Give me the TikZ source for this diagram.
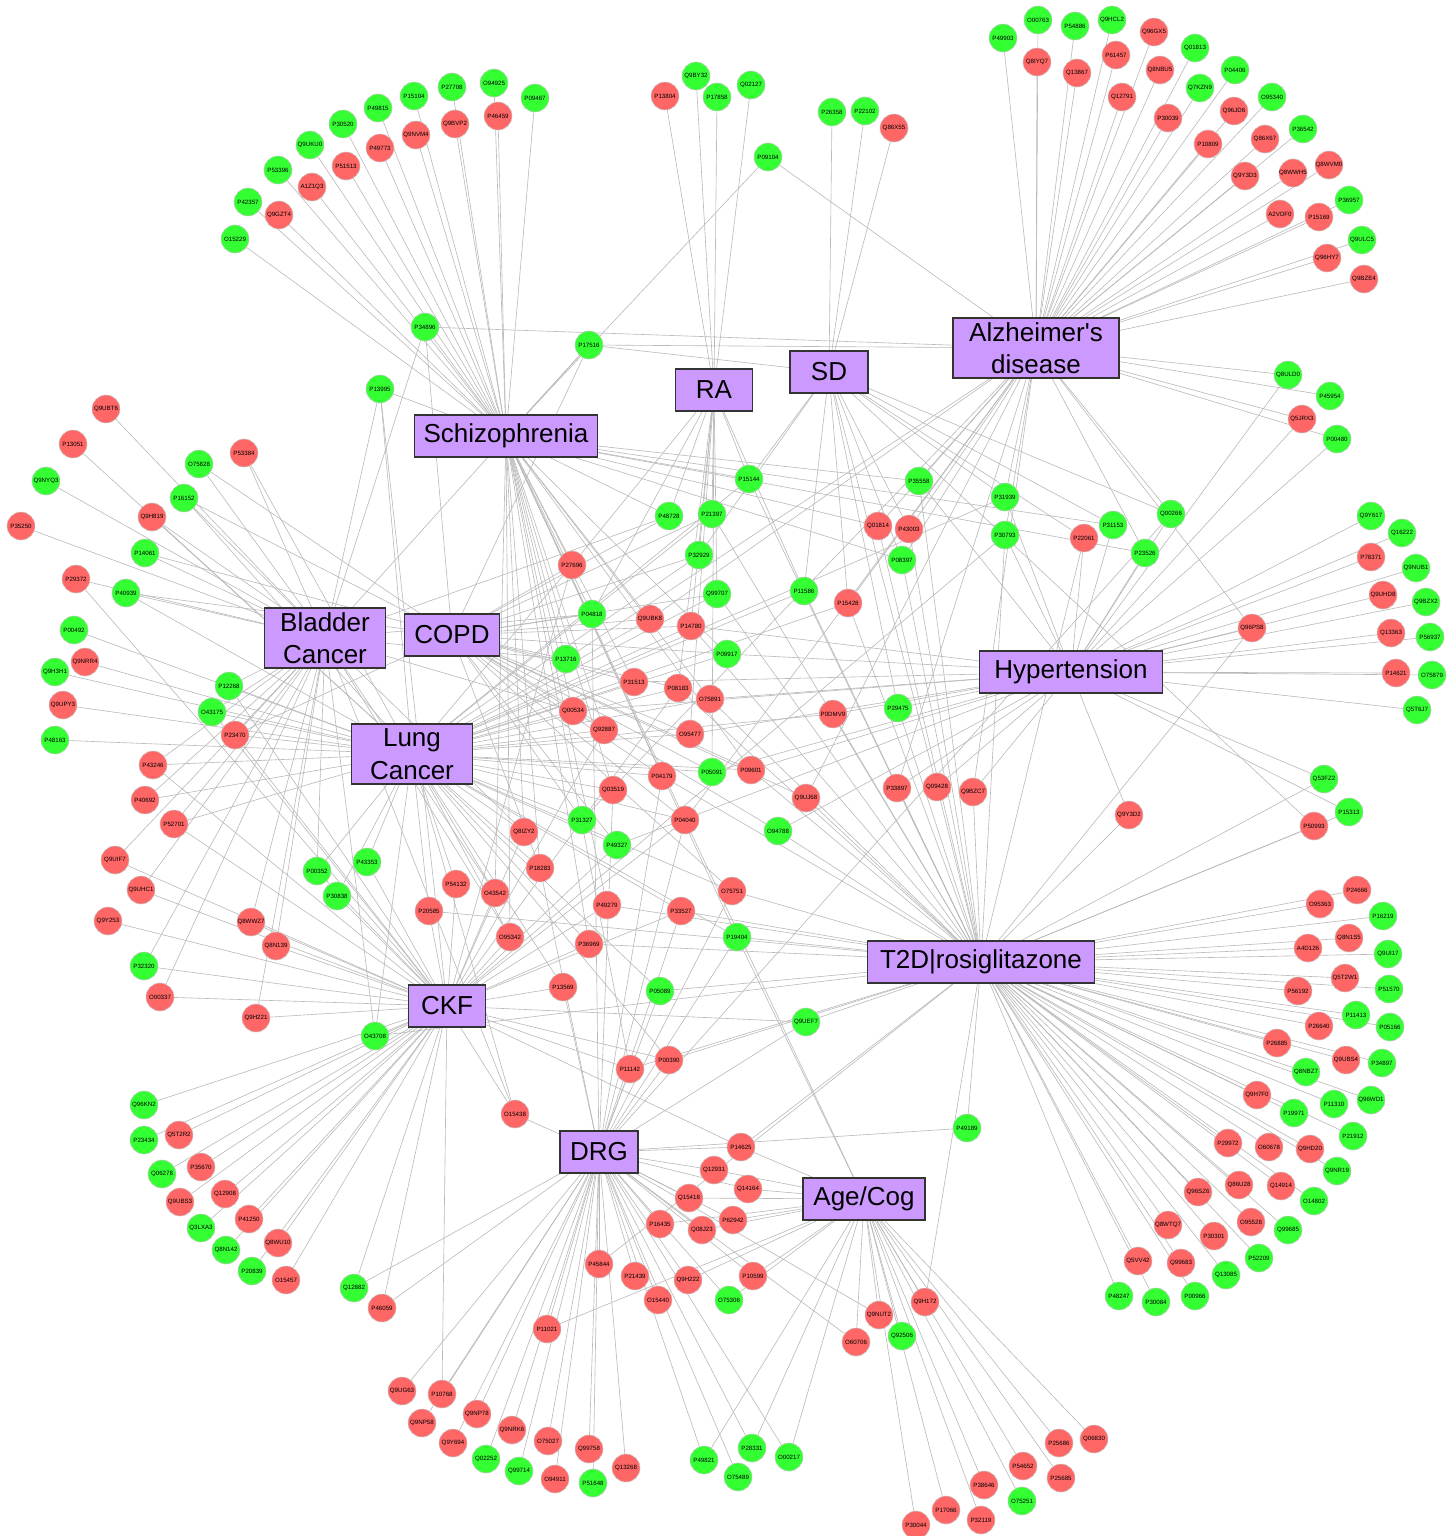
\documentclass[tikz,border=0pt]{standalone}
\usepackage{fontspec}
\setmainfont{Liberation Sans}
\usetikzlibrary{backgrounds}

\definecolor{upgreen}{RGB}{51,255,51}
\definecolor{dnred}{RGB}{255,102,102}
\definecolor{dispurple}{RGB}{204,153,255}

\begin{document}
\begin{tikzpicture}[
    x=0.02cm, y=-0.02cm,
    gene/.style={circle,draw=black!22,line width=0.3pt,minimum size=0.56cm,inner sep=0pt,font=\fontsize{3.5}{4}\selectfont},
    upgene/.style={gene,fill=upgreen},
    dngene/.style={gene,fill=dnred},
    disease/.style={rectangle,draw=black!80,line width=0.9pt,fill=dispurple,minimum height=0.84cm,inner sep=2pt,align=center,font=\fontsize{14.8}{18.5}\selectfont},
    link/.style={draw=black!27,line width=0.35pt}
]
    \useasboundingbox (0,0) rectangle (1455,1536);

    % Diseases
    \node[disease,minimum width=3.66cm] (sz) at (506,436) {Schizophrenia};
    \node[disease,minimum width=1.54cm] (ra) at (714,390) {RA};
    \node[disease,minimum width=1.56cm] (sd) at (829,372) {SD};
    \node[disease,minimum width=3.32cm,minimum height=1.2cm] (ad) at (1036,348) {Alzheimer\textquotesingle s\\disease};
    \node[disease,minimum width=2.42cm,minimum height=1.2cm] (bc) at (325,638) {Bladder\\Cancer};
    \node[disease,minimum width=1.9cm] (copd) at (452,635) {COPD};
    \node[disease,minimum width=2.42cm,minimum height=1.2cm] (lc) at (412,754) {Lung\\Cancer};
    \node[disease,minimum width=3.66cm] (ht) at (1071,672) {Hypertension};
    \node[disease,minimum width=4.54cm] (t2d) at (981,962) {T2D|rosiglitazone};
    \node[disease,minimum width=1.54cm] (ckf) at (447,1006) {CKF};
    \node[disease,minimum width=1.56cm] (drg) at (599,1152) {DRG};
    \node[disease,minimum width=2.44cm] (age) at (864,1199) {Age/Cog};

    %%%%%%%%%%%%%%%%%%%%%%%%%%%%%%%%%%%%%%%%%%%%%%%%%%%%%%%%%%%%%%%%%%%%%%%%%%%%%%%%

    % Up-regulated proteins
    \foreach \n/\x/\y in {
        P42357/248/202, O15229/235/239, P53396/278/170, Q9UKU0/310/145, P30520/343/124,
        P49815/378/108, P15104/414/96, P27708/452/87, O94925/494/83, P09467/535/98,
        P34896/425/327, Q9BY32/696/76, P17858/717/97, Q02127/751/85, P09104/768/157,
        P26358/832/112, P22102/865/111, P17516/589/345, P49903/1003/38, O00763/1038/20,
        P54886/1075/26, Q9HCL2/1112/20, Q01813/1195/48, Q7KZN9/1200/88, P04406/1235/70,
        O95340/1272/97, P36542/1303/129, P36957/1349/200, Q9ULC5/1362/240, Q8ULD0/1288/375,
        P45954/1330/396, P00480/1337/439, P13995/380/389, O75828/199/464, Q9NYQ3/46/481,
        P16152/184/498, P14061/145/553, P40939/126/593, P00492/74/630, Q9H3H1/55/672,
        P12268/229/686, O43175/212/712, P48163/55/740, P15144/749/479, P35558/919/481,
        P48728/669/516, P21397/712/514, P32929/699/555, P08397/902/560, Q99707/717/594,
        P11586/804/591, P04818/592/614, P09917/727/654, P13716/566/659, P29475/898/708,
        P31939/1005/497, P30793/1005/535, P31153/1113/525, Q00266/1171/514, P23526/1145/553,
        Q9Y617/1371/516, Q16222/1402/533, Q9NUB1/1416/568, Q9BZX2/1426/602, P56937/1430/637,
        O75879/1432/675, Q5T6J7/1417/710, P43353/367/862, P00352/317/871, P30838/337/896,
        P32320/144/966, O43708/375/1036, Q96KN2/144/1105, P23434/144/1140, P05091/712/772,
        P31327/582/820, O94788/778/831, P49327/617/845, P19404/737/937, P05089/660/991,
        Q9UEF7/806/1022, P49189/967/1128, Q53FZ2/1324/779, P15313/1349/812, P16219/1383/916,
        Q9UI17/1388/954, P51570/1389/989, P11413/1356/1015, P05166/1390/1027, P34897/1382/1063,
        Q8NBZ7/1306/1072, Q96WD1/1371/1100, P11310/1334/1104, P19971/1294/1113, P21912/1353/1136,
        Q9NR19/1337/1171, O14802/1314/1201, Q99685/1288/1230, P52209/1259/1258, Q13085/1226/1275,
        P48247/1119/1296, P30084/1156/1302, P00966/1195/1296, Q06278/162/1174, Q3LXA3/201/1228,
        Q8N142/226/1250, P20839/252/1271, Q12882/354/1288, Q02252/486/1459, Q99714/519/1471,
        P51648/593/1483, O75306/729/1300, Q92506/902/1336, P49821/704/1460, P28331/752/1448,
        O00217/789/1457, O75489/738/1477, O75251/1022/1501} {
        \node[upgene] (\n) at (\x,\y) {\n};
    }

    % Down-regulated proteins
    \foreach \n/\x/\y in {
        Q9GZT4/279/215, A1Z1Q3/312/187, P51513/346/166, P49773/380/148, Q9NVM4/416/135,
        Q9BVP2/455/124, P46459/498/116, P13804/665/96, Q86X55/894/128, Q8IYQ7/1037/62,
        Q13867/1077/73, P61457/1116/55, Q96GX5/1154/32, Q12791/1122/97, Q8NBU5/1160/70,
        P30039/1168/118, Q96JD6/1234/111, P10809/1208/144, Q86X67/1265/139, Q9Y3D3/1245/176,
        Q8WWH5/1293/173, Q8WVM0/1329/165, A2VDF0/1280/214, P15169/1319/217, Q96HY7/1327/258,
        Q9BZE4/1364/279, Q5JRX3/1302/419, Q9UBT6/106/409, P13051/73/444, P53384/244/453,
        Q9H819/152/517, P35250/21/526, P29372/76/579, Q9NRR4/85/662, Q9UPY3/63/705,
        P23470/235/735, P43246/153/765, Q01814/878/526, P43003/909/529, P27696/572/565,
        P15428/848/603, Q9UBK8/650/619, P14780/691/626, P31513/634/682, P08183/678/688,
        O75891/710/699, Q00534/573/711, Q92887/604/730, O95477/690/734, P0DMV9/833/714,
        P22061/1084/538, P78371/1371/557, Q9UHD8/1383/595, Q96PS8/1252/628, Q13363/1391/633,
        P14621/1396/673, P40692/145/800, P52701/174/824, Q9UIF7/115/860, Q9UHC1/141/890,
        P54132/456/884, P20585/429/911, Q9Y253/108/921, Q8WWZ7/251/922, Q8N139/276/946,
        O00337/160/997, Q9H221/256/1018, Q5T2R2/179/1135, P04179/662/776, P09601/751/770,
        Q03519/613/790, Q9UJ68/806/798, P33897/897/788, Q09428/937/787, Q9BZC7/973/792,
        P04040/685/820, Q8IZY2/524/832, P18283/540/868, O43542/495/893, O75751/732/891,
        P49279/607/905, P33527/681/911, O95342/510/937, P36969/589/944, P13569/563/987,
        P00390/669/1060, P11142/630/1069, O15438/515/1114, P14625/741/1147, Q9Y3D2/1129/815,
        P50993/1314/826, P24666/1357/890, O95363/1320/904, Q8N1S5/1349/938, A4D126/1308/948,
        Q5T2W1/1345/978, P56192/1298/991, P26640/1319/1026, P26885/1277/1043, Q9UBS4/1346/1060,
        Q9H7F0/1257/1095, P29972/1228/1143, O60678/1269/1147, Q9HD20/1310/1149, Q96SZ6/1198/1192,
        Q86U28/1239/1185, Q14914/1281/1186, Q8WTQ7/1168/1225, O95528/1251/1222, P30301/1214/1236,
        Q5VV42/1138/1261, Q99683/1181/1263, P25686/1059/1443, Q06830/1094/1439, P54652/1023/1466,
        P25685/1061/1478, P38646/984/1485, P32119/981/1520, Q12931/714/1170, Q14164/748/1189,
        Q15418/689/1198, P62942/733/1220, P16435/660/1224, Q08J23/702/1230, P45844/599/1264,
        P21439/635/1276, Q9H222/688/1280, P10599/753/1276, O15440/658/1300, Q9H172/925/1302,
        Q9NUT2/879/1315, O60706/856/1342, P11021/547/1329, Q9NRK6/512/1430, O75027/548/1441,
        Q99758/589/1449, Q13268/626/1468, O94911/555/1479, P17066/946/1510, P30044/916/1525,
        P35670/201/1167, Q9UBS3/180/1202, Q12908/225/1194, P41250/249/1219, Q8WU10/278/1243,
        O15457/286/1280, P46059/382/1308, Q9UG63/402/1391, P10768/442/1394, Q9NP58/422/1423,
        Q9NP78/477/1414, Q9Y694/453/1443} {
        \node[dngene] (\n) at (\x,\y) {\n};
    }

    %%%%%%%%%%%%%%%%%%%%%%%%%%%%%%%%%%%%%%%%%%%%%%%%%%%%%%%%%%%%%%%%%%%%%%%%%%%%%%%%

    % Protein-disease links, behind the nodes
    \begin{scope}[on background layer]
    \fill[white] (0,0) rectangle (1455,1536);

    \foreach \g in {P42357, Q9GZT4, O15229, P53396, A1Z1Q3, Q9UKU0, P51513, P30520, P49773,
        P49815, Q9NVM4, P15104, P27708, Q9BVP2, O94925, P46459, P09467, P09104, P34896, P13995,
        P17516, P15144, P35558, P48728, Q01814, P08397, P27696, P04818, Q9UBK8, P09917, P13716,
        P31513, O75891, Q00534, Q92887, P04179, P09601, Q03519, Q8IZY2, P18283, O43542, P49279,
        O95342, P19404, P36969, P11142, P04040, P31153, P23526}
        \draw[link] (\g) -- (sz);

    \foreach \g in {P13804, Q9BY32, P17858, Q02127, P15144, P48728, P21397, P32929, P27696,
        Q99707, P11586, P04818, P14780, P08183, O95477, P05091}
        \draw[link] (\g) -- (ra);

    \foreach \g in {P26358, P22102, Q86X55, P17516, P15144, P43003, P32929, P08397, P11586,
        P15428, P29475, Q09428, P31939, P22061, P31153, Q00266, P50993}
        \draw[link] (\g) -- (sd);

    \foreach \g in {P49903, O00763, P54886, Q9HCL2, Q8IYQ7, Q13867, P61457, Q96GX5, Q12791,
        Q8NBU5, Q01813, P30039, Q7KZN9, P04406, Q96JD6, O95340, P10809, Q86X67, P36542, Q9Y3D3,
        Q8WWH5, Q8WVM0, P36957, A2VDF0, P15169, Q9ULC5, Q96HY7, Q9BZE4, Q8ULD0, P45954, Q5JRX3,
        P00480, P09104, P34896, P17516, P35558, Q01814, P43003, P08397, P15428, Q9UBK8, P13716,
        Q9UJ68, P33897, Q9BZC7, P31327, P04040, P31939, P30793, Q00266, P23526, Q96PS8}
        \draw[link] (\g) -- (ad);

    \foreach \g in {Q9UBT6, Q9NYQ3, P35250, O75828, P53384, P16152, Q9H819, P14061, P29372,
        P40939, P12268, O43175, P23470, P43246, P40692, P52701, Q9UIF7, Q9UHC1, Q8WWZ7, Q8N139,
        P32320, O00337, Q9H221, O43708, P00352, P13995, P34896, P17516, P48728, P04818, P13716,
        Q00534, Q8IZY2, O43542, O95342, O15438}
        \draw[link] (\g) -- (bc);

    \foreach \g in {O75828, P16152, P14061, P40939, P23470, P34896, P17516, P48728, P21397,
        P32929, P27696, Q99707, P04818, Q9UBK8, P14780, P09917, P13716, P31513, P08183, Q92887,
        O95477, P04179, P05091, P09601, Q9UJ68, P31327, P04040, O94788, P49327, P18283, O75751}
        \draw[link] (\g) -- (copd);

    \foreach \g in {P13051, P53384, P16152, Q9H819, P40939, P00492, Q9NRR4, Q9H3H1, Q9UPY3,
        P48163, P12268, O43175, P23470, P43246, P40692, P52701, O43708, P00352, P30838, P43353,
        P13995, P15144, P21397, P32929, P27696, Q99707, P11586, P15428, Q9UBK8, P14780, P09917,
        P31513, P08183, O75891, Q00534, Q92887, O95477, P0DMV9, P04179, P05091, P09601, Q03519,
        P31327, P04040, Q8IZY2, P49327, P18283, O43542, P54132, P20585, O75751, P33527, O95342,
        P19404, P36969, P13569, P05089, P00390, O15438, P31939}
        \draw[link] (\g) -- (lc);

    \foreach \g in {Q8ULD0, Q5JRX3, P00480, P35558, P14780, P09917, P31513, O75891, Q00534,
        O95477, P0DMV9, P29475, P05091, P09601, P33897, Q09428, Q9BZC7, O94788, P49327, P31939,
        P30793, P22061, P31153, Q00266, P23526, Q96PS8, Q9Y617, Q16222, P78371, Q9NUB1, Q9UHD8,
        Q9BZX2, Q13363, P56937, P14621, O75879, Q5T6J7, Q53FZ2, P15313, Q9Y3D2}
        \draw[link] (\g) -- (ht);

    \foreach \g in {P15144, P35558, P21397, Q01814, P43003, P08397, Q99707, P11586, P15428,
        P14780, P08183, O75891, P0DMV9, P29475, P04179, P09601, Q9UJ68, P33897, Q09428, Q9BZC7,
        O94788, P20585, O75751, P49279, P33527, P19404, P36969, P05089, Q9UEF7, P00390, P11142,
        P14625, P49189, P30793, P22061, Q96PS8, O43708, P45844, Q9H172, Q53FZ2, P15313, P50993,
        Q9Y3D2, P24666, O95363, P16219, Q8N1S5, A4D126, Q9UI17, Q5T2W1, P56192, P51570, P11413,
        P26640, P05166, P26885, Q9UBS4, P34897, Q8NBZ7, Q96WD1, Q9H7F0, P11310, P19971, P21912,
        P29972, O60678, Q9HD20, Q9NR19, Q96SZ6, Q86U28, Q14914, O14802, Q8WTQ7, O95528, P30301,
        Q99685, P52209, Q5VV42, Q99683, Q13085, P48247, P30084, P00966}
        \draw[link] (\g) -- (t2d);

    \foreach \g in {P29372, P12268, O43175, P23470, P43246, P52701, Q9UIF7, Q9UHC1, Q9Y253,
        Q8WWZ7, Q8N139, P32320, O00337, Q9H221, O43708, P00352, P30838, P43353, P13995, P27696,
        P08183, Q92887, P04040, Q8IZY2, P49327, O43542, P54132, P20585, P49279, P33527, O95342,
        P36969, P13569, Q9UEF7, P00390, P11142, O15438, P14625, P30793, Q96KN2, Q5T2R2, P23434,
        Q06278, P35670, Q9UBS3, Q12908, Q3LXA3, P41250, Q8N142, Q8WU10, P20839, O15457, Q12882,
        P46059, P10768}
        \draw[link] (\g) -- (ckf);

    \foreach \g in {P04818, P04179, Q03519, P04040, P18283, O75751, P33527, P19404, P13569,
        P05089, Q9UEF7, P00390, P11142, O15438, P14625, P49189, Q00266, Q12882, P46059, Q9UG63,
        P10768, Q9NP58, Q9NP78, Q9Y694, Q02252, Q99714, Q9NRK6, O75027, O94911, Q99758, P51648,
        Q13268, P11021, P45844, P21439, O15440, Q9H222, P16435, Q08J23, Q15418, Q12931, Q14164,
        P62942, P10599, O75306, P49821, P28331, O00217, O75489, O60706, Q9NUT2}
        \draw[link] (\g) -- (drg);

    \foreach \g in {P04040, P19404, P14625, P11021, Q12931, Q14164, Q15418, P62942, Q08J23,
        Q9H222, P10599, O75306, P49821, P28331, O00217, Q9H172, Q9NUT2, O60706, Q92506, P17066,
        P30044, P38646, P32119, O75251, P54652, P25686, P25685, Q06830, P16435}
        \draw[link] (\g) -- (age);
    \end{scope}
\end{tikzpicture}
\end{document}
